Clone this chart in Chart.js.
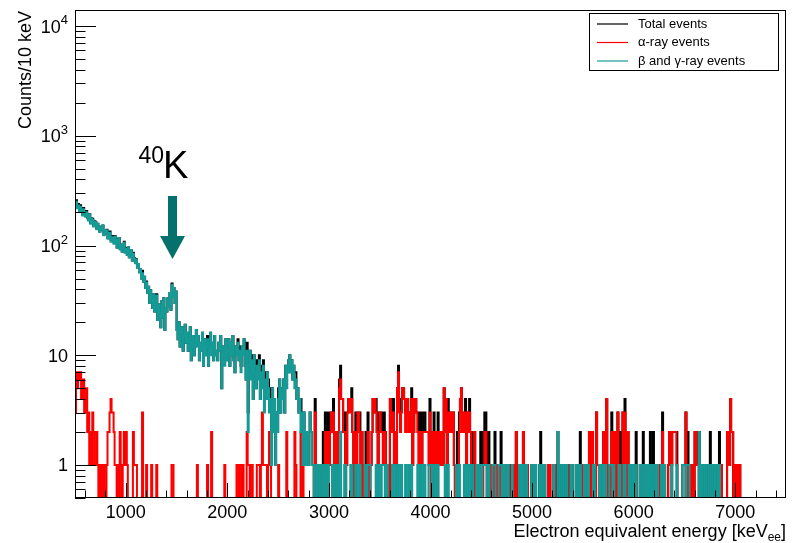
<!DOCTYPE html>
<html>
<head>
<meta charset="utf-8">
<title>Energy spectrum</title>
<script src="https://cdn.jsdelivr.net/npm/chart.js@4.4.1/dist/chart.umd.min.js"></script>
<style>
  html, body { margin: 0; padding: 0; background: #fff; }
  #wrap { width: 799px; height: 543px; }
</style>
</head>
<body>
<div id="wrap"><canvas id="spec" width="799" height="543"></canvas></div>
<script>
// ── histogram binning (keV) ──
const BIN_START = 500;
const BIN_WIDTH = 10;

// beta / gamma events per 10 keV bin, one row = 100 keV (500 ... 7090)
const BETA_GAMMA_COUNTS = [
  238,251,219,232,204,226,211,188,214,197,
  183,201,176,169,192,158,177,171,149,165,
  162,141,157,150,133,146,139,152,124,136,
  129,138,115,124,131,108,119,112,104,121,
  113,96,108,117,92,101,88,99,106,86,
  93,82,97,78,87,91,73,84,76,69,
  74,63,68,57,61,50,56,47,52,41,
  46,37,42,30,39,33,27,36,25,31,
  35,21,29,24,18,31,22,33,17,27,
  25,33,28,37,26,44,34,41,30,38,
  17,14,20,12,16,18,11,15,19,13,
  16,11,14,18,9,13,15,10,12,17,
  12,15,9,13,11,16,8,14,10,12,
  14,8,12,16,10,13,9,15,11,10,
  9,13,11,15,5,10,12,8,14,9,
  11,14,8,13,10,15,9,7,12,10,
  13,9,11,7,12,10,14,8,6,11,
  2,8,11,6,9,4,10,7,5,8,
  6,9,4,7,5,8,3,6,4,7,
  5,3,4,1,5,2,4,1,3,2,
  4,6,3,5,4,6,3,8,5,7,
  9,10,7,9,6,8,5,6,4,5,
  3,4,2,3,1,3,2,1,2,1,
  2,3,2,1,1,0,1,1,0,1,
  1,0,0,1,1,0,1,0,0,1,
  0,0,0,1,1,0,0,1,1,0,
  1,2,0,0,0,1,1,0,0,0,
  0,1,1,0,0,0,1,1,0,0,
  1,0,0,0,0,1,1,0,1,1,
  1,0,0,0,0,0,1,0,0,1,
  0,0,1,1,1,0,0,1,0,0,
  0,0,1,1,0,0,1,0,1,1,
  0,1,0,0,0,1,0,0,1,0,
  1,1,0,0,0,0,0,1,1,0,
  1,0,0,1,1,0,0,0,1,1,
  1,0,0,1,1,0,0,1,0,0,
  0,0,0,0,1,0,1,1,0,0,
  0,0,0,0,0,1,1,0,1,0,
  0,0,0,1,1,0,0,1,1,0,
  1,1,0,0,0,1,0,0,1,1,
  0,1,1,1,1,0,0,1,0,0,
  0,1,1,1,0,0,0,1,1,1,
  0,0,1,1,0,0,1,0,0,0,
  1,0,0,0,0,0,0,1,1,0,
  1,0,0,1,1,0,0,0,0,1,
  1,0,0,1,0,0,0,1,1,0,
  0,1,1,0,0,0,0,0,0,0,
  0,1,0,0,0,2,1,0,0,1,
  1,0,0,1,1,0,0,0,1,1,
  0,0,0,1,0,0,1,1,0,0,
  0,1,1,0,0,1,0,0,0,0,
  1,1,0,0,0,0,1,0,0,1,
  0,1,1,0,0,0,1,1,1,0,
  1,0,0,0,0,1,1,0,0,0,
  1,1,0,0,0,1,1,0,0,1,
  0,1,1,0,0,0,1,0,0,1,
  1,0,0,1,1,0,1,0,1,1,
  0,0,1,1,0,0,0,1,1,0,
  1,0,0,0,0,0,0,1,0,0,
  0,0,1,0,0,0,0,0,1,1,
  1,0,1,1,1,0,0,0,0,0,
  0,0,0,0,2,1,0,1,0,0,
  1,1,0,0,1,1,0,0,1,1,
  0,1,1,0,1,0,0,0,0,0,
  0,0,0,0,0,0,0,0,0,0,
  0,0,0,0,0,0,0,0,0,0
];

// alpha events per 10 keV bin, same binning
const ALPHA_COUNTS = [
  3,7,5,7,6,7,4,5,6,3,
  4,5,2,3,1,2,1,3,2,1,
  1,2,1,0,1,0,1,0,1,0,
  0,1,2,2,3,4,3,3,2,1,
  1,0,1,0,2,1,0,1,2,1,
  2,1,0,0,0,0,0,2,1,1,
  1,0,0,0,0,0,3,0,0,0,
  1,0,0,0,0,1,0,0,0,0,
  1,0,0,0,0,0,0,0,0,0,
  0,0,0,0,0,1,1,0,0,0,
  0,0,0,0,0,0,0,0,0,0,
  0,0,0,0,0,0,0,0,0,0,
  1,0,0,0,0,0,0,0,0,0,
  1,0,0,0,2,0,0,0,0,0,
  0,0,0,0,0,0,0,1,0,0,
  0,0,0,0,0,0,0,0,0,1,
  1,0,1,1,0,1,0,0,0,2,
  1,1,0,1,1,0,0,0,0,1,
  1,1,0,1,3,1,1,1,1,0,
  1,2,1,0,0,0,0,0,0,0,
  1,0,0,0,0,0,0,0,2,0,
  0,0,0,0,0,0,2,1,0,0,
  0,0,2,0,1,0,0,0,0,0,
  0,0,0,0,0,1,3,0,1,0,
  0,1,0,0,1,0,2,1,0,2,
  1,2,3,2,3,1,2,0,1,2,
  5,6,4,4,2,2,0,1,3,4,
  4,3,4,2,1,0,2,1,3,3,
  2,1,2,0,1,0,1,0,2,0,
  0,1,2,4,3,4,3,2,1,2,
  3,2,2,1,2,2,1,0,1,0,
  4,2,3,3,1,2,0,5,7,3,
  2,3,5,5,4,2,3,4,2,3,
  2,4,1,2,4,4,3,2,1,2,
  2,1,2,2,2,2,2,2,1,3,
  0,2,1,2,0,1,2,2,1,2,
  1,2,1,5,2,4,0,3,2,3,
  3,2,3,1,0,0,1,0,2,4,
  5,2,3,2,3,1,3,2,3,2,
  0,1,0,2,0,0,1,0,0,1,
  0,0,1,2,2,1,0,1,0,1,
  1,0,0,1,0,0,1,0,0,1,
  0,1,0,0,1,0,0,1,0,0,
  0,1,0,0,2,0,0,0,0,1,
  0,2,0,0,0,1,0,0,0,0,
  0,0,0,0,0,0,0,0,1,0,
  0,0,0,0,0,0,1,1,0,0,
  0,0,1,0,0,0,0,0,0,0,
  0,0,0,0,0,0,0,1,0,0,
  0,0,0,0,0,0,0,1,1,0,
  1,0,0,0,0,0,2,0,2,2,
  0,0,0,3,1,1,0,1,0,0,
  2,0,0,4,0,1,0,0,2,0,
  0,2,0,1,3,0,1,0,0,3,
  0,3,1,0,2,0,0,1,1,0,
  1,0,1,0,0,0,0,0,0,1,
  0,0,1,0,0,0,1,0,0,1,
  1,0,0,0,0,1,0,0,2,0,
  0,0,0,0,1,2,2,0,2,2,
  2,2,1,0,0,0,0,0,0,0,
  0,3,0,1,0,0,1,1,0,0,
  2,2,1,1,0,0,0,0,0,0,
  0,0,0,0,0,1,1,0,0,0,
  0,0,0,0,1,0,1,0,0,0,
  0,0,2,2,1,4,2,2,0,0,
  1,1,0,1,1,0,0,0,0,0
];

// total = alpha + beta/gamma, bin by bin
const TOTAL_COUNTS = ALPHA_COUNTS.map((a, i) => a + BETA_GAMMA_COUNTS[i]);

// ── axes ──
const X_MIN = 500, X_MAX = 7500;
const Y_MIN = 0.5, Y_MAX = 14000;
const X_TICK_LABELS = [1000, 2000, 3000, 4000, 5000, 6000, 7000];
const Y_TICK_LABELS = [1, 10, 100, 1000, 10000];
const K40_KEV = 1460;

const FONT = '"Liberation Sans", Arial, Helvetica, sans-serif';
const TEAL = '#159a96';
const ZERO_FLOOR = 0.2;   // empty bins drop below the frame, like ROOT

function histPoints(counts) {
  const pts = counts.map((c, i) => ({ x: BIN_START + i * BIN_WIDTH, y: c > 0 ? c : ZERO_FLOOR }));
  pts.push({ x: BIN_START + counts.length * BIN_WIDTH, y: ZERO_FLOOR });
  return pts;
}

// ── frame, ticks, labels ──
const rootFrame = {
  id: 'rootFrame',
  afterDatasetsDraw(chart) {
    const { ctx, chartArea: a, scales: { x, y } } = chart;
    ctx.save();
    ctx.strokeStyle = '#000';
    ctx.lineWidth = 1;
    ctx.strokeRect(Math.round(a.left) + 0.5, Math.round(a.top) + 0.5,
      Math.round(a.right - a.left) - 1, Math.round(a.bottom - a.top) - 1);

    ctx.beginPath();
    for (let v = X_MIN + 100; v < X_MAX; v += 200) {
      const px = Math.round(x.getPixelForValue(v)) + 0.5;
      const len = v % 1000 === 0 ? 15 : 7.5;
      ctx.moveTo(px, a.bottom);
      ctx.lineTo(px, a.bottom - len);
    }
    for (let k = -1; k <= 4; k++) {
      for (let m = 1; m <= 9; m++) {
        const v = m * Math.pow(10, k);
        if (v < Y_MIN || v > Y_MAX) continue;
        const py = Math.round(y.getPixelForValue(v)) + 0.5;
        ctx.moveTo(a.left, py);
        ctx.lineTo(a.left + (m === 1 ? 21 : 10.5), py);
      }
    }
    ctx.stroke();

    ctx.fillStyle = '#000';
    ctx.font = '18px ' + FONT;
    ctx.textAlign = 'center';
    ctx.textBaseline = 'alphabetic';
    X_TICK_LABELS.forEach(v => ctx.fillText(String(v), x.getPixelForValue(v), a.bottom + 20));

    Y_TICK_LABELS.forEach(v => {
      const py = y.getPixelForValue(v);
      const e = Math.round(Math.log10(v));
      const right = 68;
      ctx.textAlign = 'right';
      if (e <= 1) {
        ctx.font = '18px ' + FONT;
        ctx.fillText(String(v), right, py + 6.5);
      } else {
        ctx.font = '13px ' + FONT;
        const sw = ctx.measureText(String(e)).width;
        ctx.fillText(String(e), right, py - 2);
        ctx.font = '18px ' + FONT;
        ctx.fillText('10', right - sw, py + 6.5);
      }
    });

    // axis titles
    ctx.font = '18px ' + FONT;
    ctx.textAlign = 'right';
    ctx.fillText(']', a.right, 537);
    const wb = ctx.measureText(']').width;
    ctx.font = '12px ' + FONT;
    ctx.fillText('ee', a.right - wb, 541);
    const we = ctx.measureText('ee').width;
    ctx.font = '18px ' + FONT;
    ctx.fillText('Electron equivalent energy [keV', a.right - wb - we, 537);

    ctx.save();
    ctx.translate(31, a.top + 1);
    ctx.rotate(-Math.PI / 2);
    ctx.textAlign = 'right';
    ctx.fillText('Counts/10 keV', 0, 0);
    ctx.restore();
    ctx.restore();
  },
  afterDraw(chart) {
    const { ctx, scales: { x } } = chart;
    ctx.save();
    // legend box
    const bx = 589, by = 13, bw = 189, bh = 57;
    ctx.fillStyle = '#fff';
    ctx.fillRect(bx, by, bw, bh);
    ctx.strokeStyle = '#000';
    ctx.lineWidth = 1;
    ctx.strokeRect(bx + 0.5, by + 0.5, bw, bh);
    const rows = [['Total events', '#000'], ['\u03b1-ray events', '#ff0000'], ['\u03b2 and \u03b3-ray events', TEAL]];
    ctx.font = '13px ' + FONT;
    ctx.textAlign = 'left';
    ctx.textBaseline = 'middle';
    rows.forEach(([t, c], i) => {
      const ry = by + 11 + i * 18.5;
      ctx.strokeStyle = c;
      ctx.lineWidth = 1.2;
      ctx.beginPath();
      ctx.moveTo(597, ry);
      ctx.lineTo(628, ry);
      ctx.stroke();
      ctx.fillStyle = '#000';
      ctx.fillText(t, 638, ry);
    });

    // 40K marker
    const ax = x.getPixelForValue(K40_KEV);
    ctx.fillStyle = '#05716c';
    ctx.fillRect(ax - 4.5, 196, 9, 42);
    ctx.beginPath();
    ctx.moveTo(ax - 12.5, 236);
    ctx.lineTo(ax + 12.5, 236);
    ctx.lineTo(ax, 259);
    ctx.closePath();
    ctx.fill();

    ctx.fillStyle = '#000';
    ctx.textBaseline = 'alphabetic';
    ctx.font = '23px ' + FONT;
    ctx.textAlign = 'right';
    ctx.fillText('40', 164, 163);
    ctx.textAlign = 'left';
    ctx.font = '38px ' + FONT;
    ctx.fillText('K', 163, 178);
    ctx.restore();
  }
};

function histSet(label, counts, color, order) {
  return {
    label, data: histPoints(counts), borderColor: color, backgroundColor: color,
    borderWidth: 2, stepped: 'before', pointRadius: 0, fill: false, clip: 0, order
  };
}

new Chart(document.getElementById('spec'), {
  type: 'line',
  data: {
    datasets: [
      histSet('Total events', TOTAL_COUNTS, '#000000', 3),
      histSet('\u03b1-ray events', ALPHA_COUNTS, '#ff0000', 2),
      histSet('\u03b2 and \u03b3-ray events', BETA_GAMMA_COUNTS, TEAL, 1)
    ]
  },
  options: {
    responsive: false,
    animation: false,
    devicePixelRatio: 1,
    layout: { padding: { left: 75, top: 10, right: 13, bottom: 45 } },
    plugins: { legend: { display: false }, tooltip: { enabled: false } },
    scales: {
      x: { type: 'linear', min: X_MIN, max: X_MAX, display: false },
      y: { type: 'logarithmic', min: Y_MIN, max: Y_MAX, display: false }
    }
  },
  plugins: [rootFrame]
});
</script>
</body>
</html>
